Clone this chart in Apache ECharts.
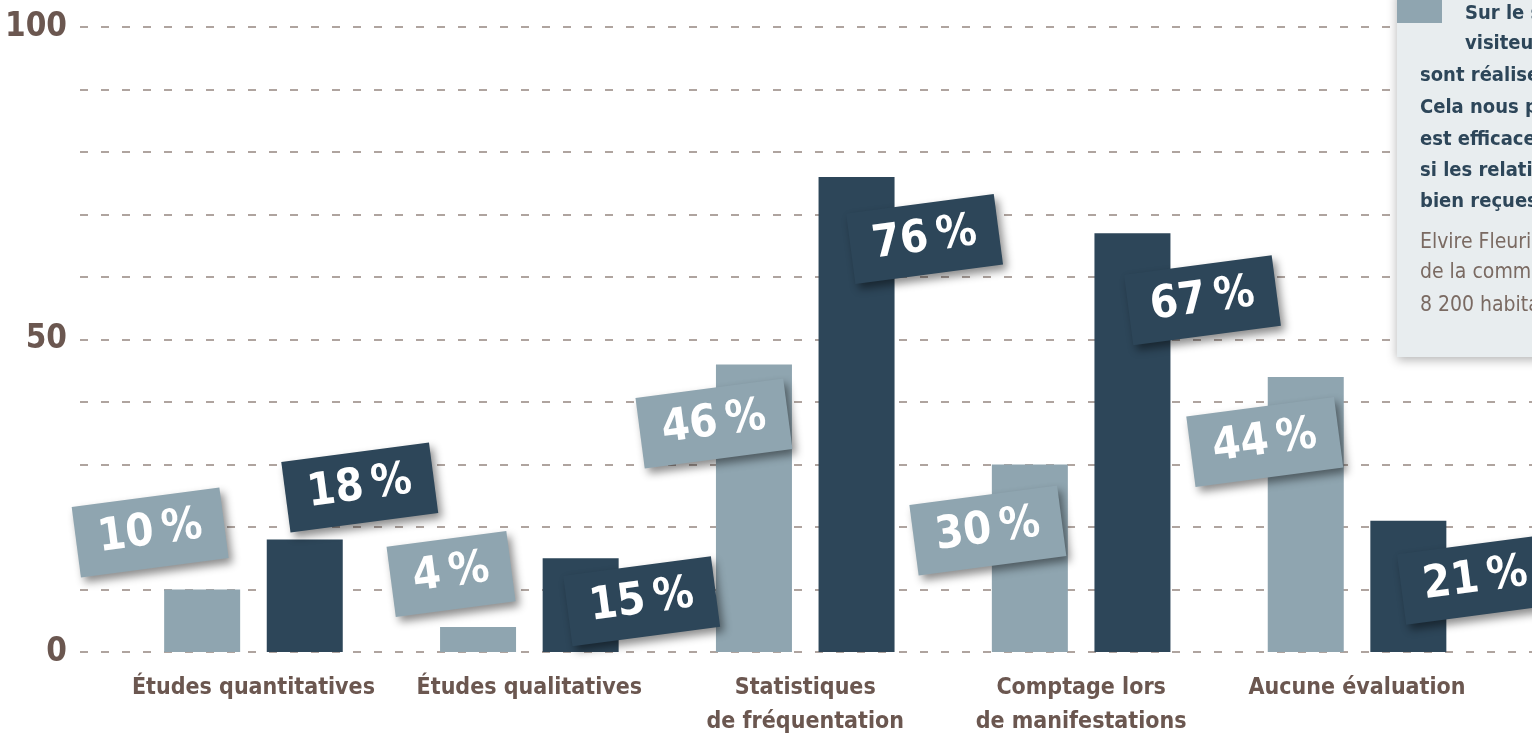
<!DOCTYPE html>
<html>
<head>
<meta charset="utf-8">
<script src="https://cdn.jsdelivr.net/npm/echarts@6/dist/echarts.min.js"></script>
<style>
  html, body { margin: 0; padding: 0; background: #fff; }
  #chart { width: 1532px; height: 734px; }
</style>
</head>
<body>
<div id="chart"></div>
<script>
// données
const categories = ['Études quantitatives', 'Études qualitatives', 'Statistiques\nde fréquentation', 'Comptage lors\nde manifestations', 'Aucune évaluation'];
const lightValues = [10, 4, 46, 30, 44];
const darkValues = [18, 15, 76, 67, 21];
const yTickLabels = [0, 50, 100];

// encadré (texte coupé par le bord)
const quoteBold = ['Sur le site, les', 'visiteurs', 'sont réalisées', 'Cela nous permet', 'est efficace', 'si les relations', 'bien reçues.'];
const quoteAuthor = ['Elvire Fleuriau', 'de la commune', '8 200 habitants'];

// placement des étiquettes (décalage à l'écran depuis le haut de la barre)
const lightLabelShift = [[-52, -57], [-27, -53], [-40, 59], [-42, 66], [-41, 65]];
const darkLabelShift = [[55, -52], [61, 43], [68, 62], [70, 67], [67, 59]];

const FONT = '"Liberation Sans Narrow", "DejaVu Sans Condensed", sans-serif';
const LIGHT = '#8fa5b0';
const DARK = '#2d4659';
const BROWN = '#6b5750';
const ROT = 7.5;

// zrender fait tourner le décalage avec l'étiquette : on le compense
function unrotate(s) {
  const a = ROT * Math.PI / 180;
  return [s[0] * Math.cos(a) - s[1] * Math.sin(a), s[0] * Math.sin(a) + s[1] * Math.cos(a)];
}

function barData(values, shifts, color) {
  return values.map((v, i) => ({
    value: v,
    label: { offset: unrotate(shifts[i]), backgroundColor: color }
  }));
}

const labelBase = {
  show: true,
  position: ['50%', 0],
  align: 'center',
  verticalAlign: 'middle',
  rotate: ROT,
  color: '#fff',
  fontFamily: FONT,
  fontWeight: 'bold',
  fontSize: 45,
  lineHeight: 50,
  padding: [12, 22, 9, 22],
  shadowColor: 'rgba(0,0,0,0.45)',
  shadowBlur: 8,
  shadowOffsetX: 4,
  shadowOffsetY: 5,
  formatter: p => p.value + '\u2009%'
};

const chart = echarts.init(document.getElementById('chart'));

const graphics = [
  {
    type: 'rect',
    shape: { x: 1397, y: -10, width: 200, height: 367 },
    style: { fill: '#e8edef', shadowBlur: 10, shadowColor: 'rgba(0,0,0,0.3)', shadowOffsetY: 3 },
    z: 10
  },
  {
    type: 'rect',
    shape: { x: 1397, y: 0, width: 45, height: 23 },
    style: { fill: LIGHT },
    z: 11
  }
];
quoteBold.forEach((t, i) => {
  graphics.push({
    type: 'text',
    x: i < 2 ? 1465 : 1420,
    y: [14, 44, 76, 108, 140, 171, 202][i],
    style: { text: t, fill: DARK, font: 'bold 20px ' + FONT, textVerticalAlign: 'middle' },
    z: 12
  });
});
quoteAuthor.forEach((t, i) => {
  graphics.push({
    type: 'text',
    x: 1420,
    y: [243, 273, 306][i],
    style: { text: t, fill: '#7a6a62', font: '21px ' + FONT, textVerticalAlign: 'middle' },
    z: 12
  });
});

chart.setOption({
  animation: false,
  grid: [
    { left: 80, right: 0, top: 27, bottom: 82, outerBoundsMode: 'none' },
    { left: 115.5, right: 37, top: 27, bottom: 82, outerBoundsMode: 'none' }
  ],
  xAxis: [
    { gridIndex: 0, type: 'value', show: false },
    {
      gridIndex: 1,
      type: 'category',
      data: categories,
      axisLine: { show: false },
      axisTick: { show: false },
      axisLabel: {
        margin: 19,
        color: BROWN,
        fontFamily: FONT,
        fontWeight: 'bold',
        fontSize: 23,
        lineHeight: 34,
        interval: 0
      }
    }
  ],
  yAxis: [
    {
      gridIndex: 0,
      type: 'value',
      min: 0,
      max: 100,
      interval: 10,
      axisLine: { show: false },
      axisTick: { show: false },
      axisLabel: {
        margin: 13,
        color: BROWN,
        fontFamily: FONT,
        fontWeight: 'bold',
        fontSize: 33,
        formatter: v => (yTickLabels.includes(v) ? String(v) : '')
      },
      splitLine: { lineStyle: { color: '#958680', width: 1.5, type: [8, 13] } }
    },
    { gridIndex: 1, type: 'value', min: 0, max: 100, show: false }
  ],
  series: [
    {
      name: 'clair',
      type: 'bar',
      xAxisIndex: 1,
      yAxisIndex: 1,
      barWidth: 76,
      barGap: '35%',
      itemStyle: { color: LIGHT },
      label: labelBase,
      data: barData(lightValues, lightLabelShift, LIGHT)
    },
    {
      name: 'foncé',
      type: 'bar',
      xAxisIndex: 1,
      yAxisIndex: 1,
      barWidth: 76,
      barGap: '35%',
      itemStyle: { color: DARK },
      label: labelBase,
      data: barData(darkValues, darkLabelShift, DARK)
    }
  ],
  graphic: graphics
});
</script>
</body>
</html>
